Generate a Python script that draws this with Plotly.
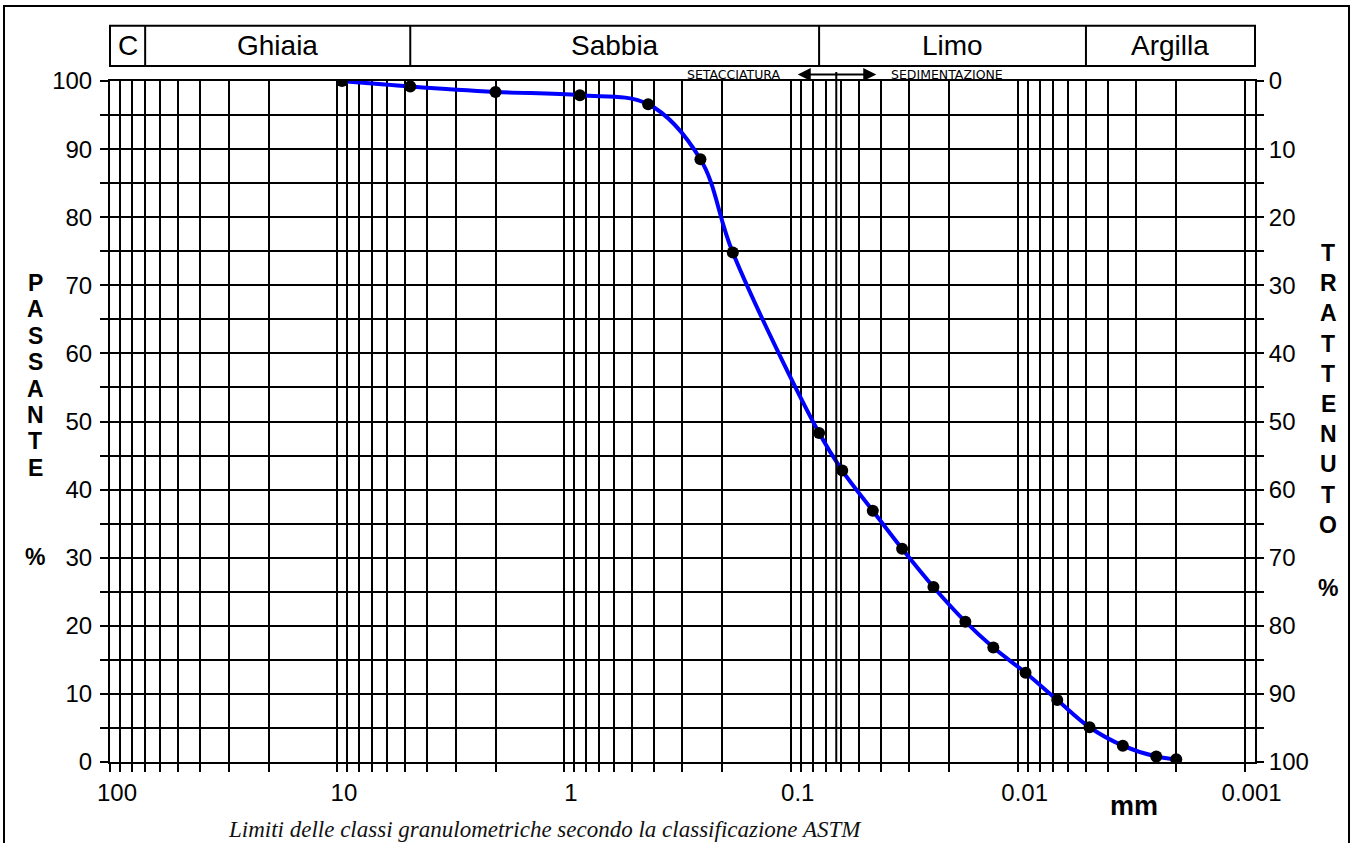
import math
import plotly.graph_objects as go

# Curva granulometrica: diametro dei grani (mm) e percentuale passante
diametro_mm = [9.5, 4.75, 2.0, 0.85, 0.425, 0.25, 0.18, 0.075, 0.0593, 0.0435,
               0.0323, 0.0235, 0.0170, 0.0128, 0.00923, 0.00669, 0.00482,
               0.00344, 0.00245, 0.0020]
passante = [100.0, 99.2, 98.4, 97.9, 96.6, 88.5, 74.8, 48.3, 42.8, 36.9,
            31.3, 25.7, 20.6, 16.8, 13.1, 9.1, 5.1, 2.4, 0.8, 0.4]
trattenuto = [100 - p for p in passante]

# Limiti delle classi ASTM (mm) per la fascia di intestazione
limiti_classi = [70, 4.75, 0.075, 0.005]
nomi_classi = ["C", "Ghiaia", "Sabbia", "Limo", "Argilla"]

# Assi
decadi = [100, 10, 1, 0.1, 0.01, 0.001]
etichette_decadi = ["100", "10", "1", "0.1", "0.01", "0.001"]
y_ticks = list(range(0, 101, 5))
limite_setacciatura = 0.063

W, H = 1363, 843
ML, MR, MT, MB = 110, 108, 81, 81
PW, PH = W - ML - MR, H - MT - MB
X_LEFT, X_RIGHT = 2.0, -3.046          # log10 range, reversed

FONT = "Arial, Liberation Sans, sans-serif"
LW = 2


def py(p):
    """pixel row -> paper y"""
    return (H - MB - p) / PH


def px(p):
    """pixel column -> paper x"""
    return (p - ML) / PW


# vertical grid: 1..9 in every decade, 100 down to 0.001
x_grid = [100.0]
for e in range(1, -4, -1):
    for m in range(9, 0, -1):
        x_grid.append(round(m * 10.0 ** e, 6))
x_text = [etichette_decadi[decadi.index(v)] if v in decadi else "" for v in x_grid]

fig = go.Figure()

# measured points (plotted on the retained-percent axis)
fig.add_trace(go.Scatter(
    x=diametro_mm, y=trattenuto, yaxis="y2", mode="markers",
    marker=dict(color="black", size=12), hoverinfo="skip", showlegend=False))
# smoothed passing curve
fig.add_trace(go.Scatter(
    x=diametro_mm, y=passante, mode="lines",
    line=dict(color="#0000FF", width=4, shape="spline", smoothing=1),
    showlegend=False))
fig.add_trace(go.Scatter(
    x=diametro_mm[-1:], y=passante[-1:], mode="markers",
    marker=dict(color="red", size=4), hoverinfo="skip", showlegend=False))

shapes = []
# outer frame
shapes.append(dict(type="rect", xref="paper", yref="paper",
                   x0=px(4), x1=px(1349), y0=py(860), y1=py(6),
                   line=dict(color="black", width=2)))
# header band
hy0, hy1 = py(66), py(25.7)
shapes.append(dict(type="rect", xref="paper", yref="paper",
                   x0=0, x1=1, y0=hy0, y1=hy1,
                   line=dict(color="black", width=2)))
for lim in limiti_classi:
    shapes.append(dict(type="line", xref="x", yref="paper",
                       x0=lim, x1=lim, y0=hy0, y1=hy1,
                       line=dict(color="black", width=2)))
# sieving / sedimentation boundary
shapes.append(dict(type="line", xref="x", yref="paper",
                   x0=limite_setacciatura, x1=limite_setacciatura,
                   y0=0, y1=py(72), line=dict(color="black", width=LW)))

annotations = []
edges = [X_LEFT] + [math.log10(v) for v in limiti_classi] + [X_RIGHT]
for i, nome in enumerate(nomi_classi):
    annotations.append(dict(
        xref="x", yref="paper", x=(edges[i] + edges[i + 1]) / 2, y=py(45.5),
        text=nome, showarrow=False, xanchor="center", yanchor="middle",
        font=dict(family=FONT, size=28, color="black")))

# double arrow SETACCIATURA <-> SEDIMENTAZIONE
DEC = PW / (X_LEFT - X_RIGHT)
lx = math.log10(limite_setacciatura)
annotations.append(dict(
    xref="x", yref="paper", x=lx - 40 / DEC, y=py(74.5), text="",
    showarrow=True, ax=-80, ay=0, arrowside="end+start", arrowhead=2,
    arrowsize=1.3, arrowwidth=2, arrowcolor="black"))
annotations.append(dict(
    xref="x", yref="paper", x=lx, xshift=-53, y=py(75), text="SETACCIATURA",
    showarrow=False, xanchor="right", yanchor="middle",
    font=dict(family="DejaVu Sans", size=12.5, color="black")))
annotations.append(dict(
    xref="x", yref="paper", x=lx, xshift=53, y=py(75), text="SEDIMENTAZIONE",
    showarrow=False, xanchor="left", yanchor="middle",
    font=dict(family="DejaVu Sans", size=12.5, color="black")))

# vertical axis titles, one letter per line
for i, ch in enumerate("PASSANTE"):
    annotations.append(dict(
        xref="paper", yref="paper", x=px(35), y=py(283 + i * 26.4), text=ch,
        showarrow=False, xanchor="center", yanchor="middle",
        font=dict(family=FONT, size=23, color="black", weight="bold")))
annotations.append(dict(
    xref="paper", yref="paper", x=px(35), y=py(557), text="%",
    showarrow=False, xanchor="center", yanchor="middle",
    font=dict(family=FONT, size=23, color="black", weight="bold")))
for i, ch in enumerate("TRATTENUTO"):
    annotations.append(dict(
        xref="paper", yref="paper", x=px(1328), y=py(253 + i * 30.2), text=ch,
        showarrow=False, xanchor="center", yanchor="middle",
        font=dict(family=FONT, size=23, color="black", weight="bold")))
annotations.append(dict(
    xref="paper", yref="paper", x=px(1328), y=py(588), text="%",
    showarrow=False, xanchor="center", yanchor="middle",
    font=dict(family=FONT, size=23, color="black", weight="bold")))

annotations.append(dict(
    xref="paper", yref="paper", x=px(1134), y=py(806), text="mm",
    showarrow=False, xanchor="center", yanchor="middle",
    font=dict(family=FONT, size=27, color="black", weight="bold")))
annotations.append(dict(
    xref="paper", yref="paper", x=px(545), y=py(830),
    text="<i>Limiti delle classi granulometriche secondo la classificazione ASTM</i>",
    showarrow=False, xanchor="center", yanchor="middle",
    font=dict(family="Liberation Serif, Times New Roman, serif", size=23, color="#111111")))

fig.update_layout(
    width=W, height=H,
    margin=dict(l=ML, r=MR, t=MT, b=MB, pad=0),
    paper_bgcolor="white", plot_bgcolor="white",
    shapes=shapes, annotations=annotations,
    showlegend=False,
    xaxis=dict(
        type="log", range=[X_LEFT, X_RIGHT],
        tickmode="array", tickvals=x_grid, ticktext=x_text,
        ticks="outside", ticklen=8, tickwidth=LW, tickcolor="black",
        ticklabelshift=-7,
        showgrid=True, gridcolor="black", gridwidth=LW,
        showline=True, linecolor="black", linewidth=LW, mirror=True,
        tickfont=dict(family=FONT, size=24, color="black"),
        zeroline=False,
    ),
    yaxis=dict(
        range=[0, 100], tickmode="array", tickvals=y_ticks,
        ticktext=[str(v) if v % 10 == 0 else "" for v in y_ticks],
        ticks="outside", ticklen=8, tickwidth=LW, tickcolor="black",
        ticklabelstandoff=3,
        showgrid=True, gridcolor="black", gridwidth=LW,
        showline=True, linecolor="black", linewidth=LW, mirror=True,
        tickfont=dict(family=FONT, size=24, color="black"),
        zeroline=False,
    ),
    yaxis2=dict(
        overlaying="y", side="right", anchor="x",
        range=[100, 0], tickmode="array", tickvals=y_ticks,
        ticktext=[str(v) if v % 10 == 0 else "" for v in y_ticks],
        ticks="outside", ticklen=8, tickwidth=LW, tickcolor="black",
        showgrid=False, zeroline=False, showline=False,
        tickfont=dict(family=FONT, size=24, color="black"),
    ),
)

fig.write_html("out.html")
